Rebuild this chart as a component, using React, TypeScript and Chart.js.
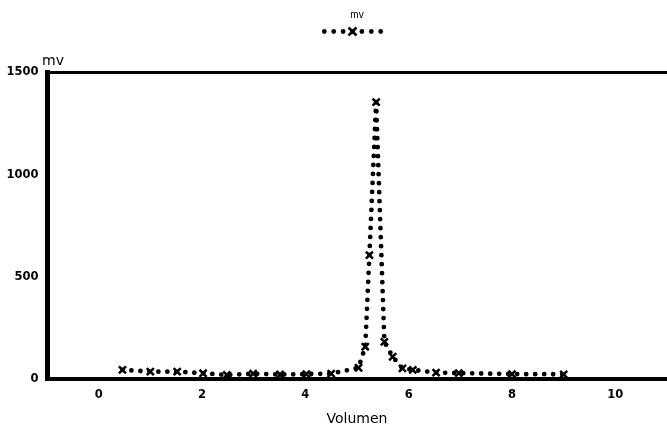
import React, { useEffect, useRef } from 'react';
import { Chart, registerables } from 'chart.js';

Chart.register(...registerables);

// ---- data ----
const volumen = [0.46, 1.0, 1.52, 2.02, 2.48, 2.99, 3.51, 4.02, 4.5, 5.03, 5.16, 5.24, 5.37, 5.53, 5.69, 5.88, 6.08, 6.53, 6.97, 8.0, 9.0];
const mvValues = [45, 36, 36, 28, 20, 26, 22, 24, 26, 55, 158, 606, 1355, 182, 109, 52, 45, 31, 29, 24, 23];
const xTicks = [0, 2, 4, 6, 8, 10];
const yTicks = [0, 500, 1000, 1500];
const seriesLabel = 'mv';
const xTitle = 'Volumen';
const yUnit = 'mv';

const BLACK = '#000000';
const LEG_FS = 18;

const decorPlugin = {
  id: 'decor',
  afterDraw(chart: any) {
    const { ctx, chartArea } = chart;
    ctx.save();
    ctx.fillStyle = BLACK;
    ctx.font = '14px "DejaVu Sans"';
    ctx.textAlign = 'center';
    ctx.textBaseline = 'middle';
    ctx.fillText(yUnit, chartArea.left + 6, chartArea.top - 11);
    const lg = chart.legend;
    if (lg && lg.legendHitBoxes && lg.legendHitBoxes[0]) {
      const hb = lg.legendHitBoxes[0];
      const bw = lg.options.labels.boxWidth;
      const cx = hb.left + bw / 2;
      const cy = hb.top + LEG_FS / 2;
      const r = 4;
      ctx.strokeStyle = BLACK;
      ctx.lineWidth = 2.5;
      ctx.lineCap = 'butt';
      ctx.beginPath();
      ctx.moveTo(cx - r, cy - r);
      ctx.lineTo(cx + r, cy + r);
      ctx.moveTo(cx + r, cy - r);
      ctx.lineTo(cx - r, cy + r);
      ctx.stroke();
    }
    ctx.restore();
  },
};

export default function App() {
  const ref = useRef<HTMLCanvasElement | null>(null);

  useEffect(() => {
    document.body.style.margin = '0';
    const canvas = ref.current;
    if (!canvas) return;
    const tickFont = { family: '"DejaVu Sans"', size: 11.5, weight: 'bold' as const };
    const chart = new Chart(canvas, {
      type: 'line',
      data: {
        datasets: [
          {
            label: seriesLabel,
            data: volumen.map((x, i) => ({ x, y: mvValues[i] })),
            borderColor: BLACK,
            backgroundColor: BLACK,
            borderWidth: 4.8,
            borderDash: [0, 9],
            borderCapStyle: 'round',
            tension: 0,
            fill: false,
            pointStyle: 'crossRot',
            pointRadius: 5,
            pointBorderWidth: 2.5,
            pointBorderColor: BLACK,
            pointBackgroundColor: BLACK,
          },
        ],
      },
      plugins: [decorPlugin],
      options: {
        responsive: false,
        animation: false,
        devicePixelRatio: 1,
        layout: { autoPadding: false, padding: { left: 0, right: -2, top: 0, bottom: 0 } },
        plugins: {
          tooltip: { enabled: false },
          legend: {
            display: true,
            position: 'top',
            fullSize: false,
            title: {
              display: true,
              text: seriesLabel,
              color: BLACK,
              font: { family: '"Liberation Sans"', size: 10 },
              padding: { top: 10, bottom: -4.5 },
            },
            labels: {
              boxWidth: 56.4,
              boxHeight: 0,
              padding: 5,
              color: BLACK,
              font: { size: LEG_FS },
              generateLabels: () => [
                {
                  text: '',
                  fillStyle: 'rgba(0,0,0,0)',
                  strokeStyle: BLACK,
                  lineWidth: 4.8,
                  lineDash: [0, 9.4],
                  lineCap: 'round',
                  hidden: false,
                  datasetIndex: 0,
                } as any,
              ],
            },
          },
        },
        scales: {
          x: {
            type: 'linear',
            position: 'bottom',
            min: -1,
            max: 11,
            afterBuildTicks: (scale: any) => {
              scale.ticks = xTicks.map((v) => ({ value: v }));
            },
            afterFit: (scale: any) => {
              scale.height = 51;
            },
            grid: { display: false, drawTicks: false },
            border: { display: true, color: BLACK, width: 4 },
            ticks: { color: BLACK, font: tickFont, padding: 9, maxRotation: 0, callback: (v: any) => String(v) },
            title: {
              display: true,
              text: xTitle,
              color: BLACK,
              font: { family: '"DejaVu Sans"', size: 14 },
              padding: { top: 0, bottom: 2 },
            },
          },
          x2: {
            type: 'linear',
            position: 'top',
            min: -1,
            max: 11,
            afterBuildTicks: (scale: any) => {
              scale.ticks = [];
            },
            afterFit: (scale: any) => {
              scale.height = 22;
            },
            grid: { display: false, drawTicks: false },
            border: { display: true, color: BLACK, width: 3 },
            ticks: { display: false },
          },
          y: {
            type: 'linear',
            position: 'left',
            min: 0,
            max: 1500,
            afterBuildTicks: (scale: any) => {
              scale.ticks = yTicks.map((v) => ({ value: v }));
            },
            afterFit: (scale: any) => {
              scale.width = 47;
            },
            grid: { display: false, drawTicks: false },
            border: { display: true, color: BLACK, width: 5 },
            ticks: { color: BLACK, font: tickFont, padding: 8.5, callback: (v: any) => String(v) },
          },
        },
      },
    });
    return () => chart.destroy();
  }, []);

  return (
    <div style={{ width: 667, height: 430 }}>
      <canvas ref={ref} width={667} height={430} />
    </div>
  );
}
